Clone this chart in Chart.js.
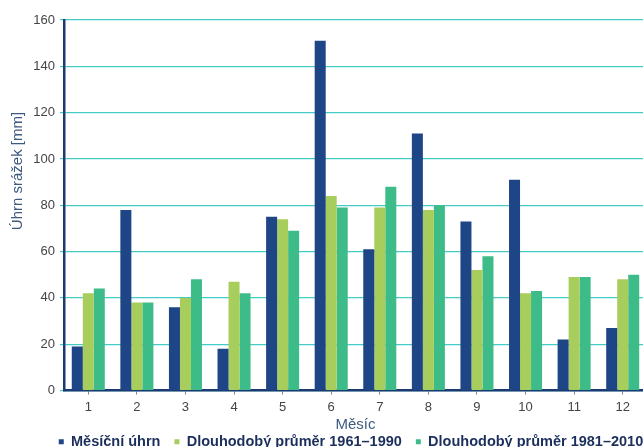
<!DOCTYPE html>
<html>
<head>
<meta charset="utf-8">
<script src="https://cdn.jsdelivr.net/npm/chart.js@4"></script>
<style>
  html, body { margin: 0; padding: 0; background: #ffffff; overflow: hidden; }
  #wrap { width: 643px; height: 447px; overflow: hidden; position: relative; }
  #box { position: absolute; left: 0; top: 0; width: 702px; height: 459px; }
</style>
</head>
<body>
<div id="wrap"><div id="box"><canvas id="c"></canvas></div></div>
<script>
// Měsíční úhrn srážek a dlouhodobé průměry (mm)
const months = ['1', '2', '3', '4', '5', '6', '7', '8', '9', '10', '11', '12'];
const monthlyTotal = [19, 78, 36, 18, 75, 151, 61, 111, 73, 91, 22, 27];
const normal1961_1990 = [42, 38, 40, 47, 74, 84, 79, 78, 52, 42, 49, 48];
const normal1981_2010 = [44, 38, 48, 42, 69, 79, 88, 80, 58, 43, 49, 50];
const seriesNames = ['Měsíční úhrn', 'Dlouhodobý průměr 1961–1990', 'Dlouhodobý průměr 1981–2010'];
const yTitle = 'Úhrn srážek [mm]';
const xTitle = 'Měsíc';

const FONT = "'Liberation Sans', Arial, sans-serif";
const NAVY = '#1c3a72';
const GRID = '#45cbc6';

// y-axis title, placed beside the tick labels
const yTitlePlugin = {
  id: 'yTitle',
  afterDraw(chart) {
    const ctx = chart.ctx;
    ctx.save();
    ctx.translate(18, 171);
    ctx.rotate(-Math.PI / 2);
    ctx.textAlign = 'center';
    ctx.textBaseline = 'middle';
    ctx.font = '15px ' + FONT;
    ctx.fillStyle = '#3d5a80';
    ctx.fillText(yTitle, 0, 0);
    ctx.restore();
  }
};

new Chart(document.getElementById('c'), {
  type: 'bar',
  data: {
    labels: months,
    datasets: [
      { label: seriesNames[0], data: monthlyTotal, backgroundColor: '#1e4585' },
      { label: seriesNames[1], data: normal1961_1990, backgroundColor: '#a7cd5c' },
      { label: seriesNames[2], data: normal1981_2010, backgroundColor: '#3dbc8a' }
    ]
  },
  options: {
    responsive: true,
    maintainAspectRatio: false,
    animation: false,
    datasets: { bar: { categoryPercentage: 0.68, barPercentage: 1.0, borderWidth: 0 } },
    layout: { padding: { left: 0, top: 20, right: 0, bottom: 0 } },
    plugins: {
      tooltip: { enabled: false },
      legend: {
        position: 'bottom',
        labels: {
          boxWidth: 5,
          boxHeight: 5,
          padding: 14,
          color: '#1c2f5c',
          font: { family: FONT, size: 14.5, weight: 'bold' }
        }
      }
    },
    scales: {
      x: {
        afterFit(scale) { scale.height = 30; },
        grid: {
          display: true,
          drawOnChartArea: false,
          offset: false,
          tickLength: 4,
          color: '#7387a8'
        },
        border: { display: true, color: NAVY, width: 2.5 },
        ticks: { color: '#444', padding: 5, font: { family: FONT, size: 13 } },
        title: {
          display: true,
          text: xTitle,
          color: '#3d5a80',
          padding: { top: 0, bottom: -13 },
          font: { family: FONT, size: 15 }
        }
      },
      y: {
        min: 0,
        max: 160,
        afterFit(scale) { scale.width = 64; },
        ticks: { stepSize: 20, color: '#444', padding: 5, font: { family: FONT, size: 13 } },
        grid: { color: GRID, lineWidth: 1.2, tickLength: 4 },
        border: { display: true, color: NAVY, width: 2.5 }
      },
      // empty right-hand margin beyond the plot
      yRight: {
        position: 'right',
        display: true,
        afterFit(scale) { scale.width = 55; },
        grid: { display: false },
        ticks: { display: false },
        border: { display: false }
      }
    }
  },
  plugins: [yTitlePlugin]
});
</script>
</body>
</html>
